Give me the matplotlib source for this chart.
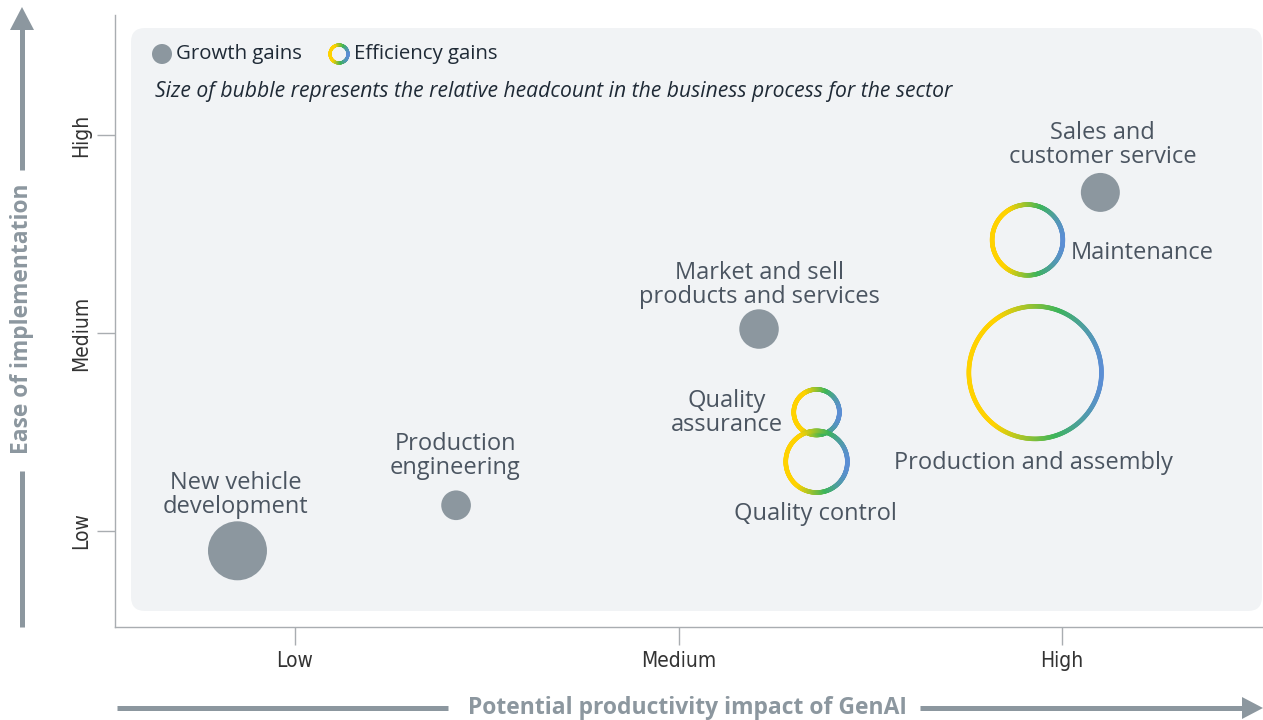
import numpy as np
import matplotlib
matplotlib.use("Agg")
import matplotlib.pyplot as plt
from matplotlib.collections import LineCollection
from matplotlib.colors import LinearSegmentedColormap
from matplotlib.lines import Line2D
from matplotlib.patches import FancyBboxPatch, Polygon, Circle
from matplotlib.transforms import IdentityTransform

plt.rcParams['font.family'] = ['Open Sans', 'DejaVu Sans']

# Growth gains (filled bubbles)
growth_names = ["New vehicle\ndevelopment", "Production\nengineering",
                "Market and sell\nproducts and services", "Sales and\ncustomer service"]
growth_impact = [0.85, 1.42, 2.21, 3.10]
growth_ease = [0.90, 1.13, 2.02, 2.71]
growth_headcount = [8.7, 2.2, 3.9, 3.8]

# Efficiency gains (gradient rings)
eff_names = ["Maintenance", "Production and assembly", "Quality\nassurance", "Quality control"]
eff_impact = [2.91, 2.93, 2.36, 2.36]
eff_ease = [2.47, 1.80, 1.60, 1.35]
eff_headcount = [14.1, 46.9, 6.25, 10.9]

levels = ["Low", "Medium", "High"]

# label placement (pixels relative to bubble centre)
growth_offsets = [(-2, 56, 'center'), (-1, 49, 'center'), (0, 44, 'center'), (2, 47, 'center')]
eff_offsets = [(43, -13, 'left'), (-2, -90, 'center'), (-34, -1, 'right'), (-1, -52, 'center')]

W, H = 1263, 720
GREY = '#8C979F'
LABEL = '#4B5561'
ring_cmap = LinearSegmentedColormap.from_list(
    'ring', [(0, '#FFD200'), (0.2, '#FFD200'), (0.66, '#3DB55A'), (1.0, '#5B8ED4')])


def radius(h):
    return 10 * np.sqrt(h)


def draw_ring(target, cx, cy, r, lw):
    th = np.linspace(0, 2 * np.pi, 361)
    pts = np.column_stack([cx + r * np.cos(th), cy + r * np.sin(th)])
    segs = np.stack([pts[:-1], pts[1:]], axis=1)
    t = (np.cos((th[:-1] + th[1:]) / 2) + 1) / 2
    lc = LineCollection(segs, colors=ring_cmap(t), linewidths=lw,
                        capstyle='round', transform=IdentityTransform())
    target.add_collection(lc, autolim=False)


fig = plt.figure(figsize=(W / 100, H / 100), dpi=100)
ax = fig.add_axes([115 / W, 93 / H, 1148 / W, 612 / H])
ax.set_facecolor('none')
ax.set_xlim(1 - 180 / 383.5, 1 + 968 / 383.5)
ax.set_ylim(1 - 96 / 198, 3 + 120 / 198)

# grey rounded panel
panel = FancyBboxPatch((131, 109), 1131, 583, boxstyle='round,pad=0,rounding_size=14',
                       transform=IdentityTransform(), fc='#F1F3F5', ec='none', zorder=0)
ax.add_patch(panel)

# spines and ticks
for s in ['top', 'right']:
    ax.spines[s].set_visible(False)
for s in ['left', 'bottom']:
    ax.spines[s].set_color('#A9ADB1')
    ax.spines[s].set_linewidth(1)
ax.set_xticks([1, 2, 3])
ax.set_xticklabels(levels)
ax.set_yticks([1, 2, 3])
ax.set_yticklabels(levels, rotation=90, va='center')
ax.tick_params(axis='both', length=13, width=1, color='#A9ADB1', labelcolor='#333333', labelsize=15)
ax.tick_params(axis='x', pad=4)
ax.tick_params(axis='y', pad=4)
for lab in ax.get_xticklabels() + ax.get_yticklabels():
    lab.set_fontfamily(['DejaVu Sans'])
    lab.set_fontstretch('condensed')

# growth bubbles
rg = radius(np.array(growth_headcount))
ax.scatter(growth_impact, growth_ease, s=(2 * rg * 0.72) ** 2, c=GREY, linewidths=0, zorder=3)
for name, x, y, (dx, dy, ha) in zip(growth_names, growth_impact, growth_ease, growth_offsets):
    ax.annotate(name, (x, y), xytext=(dx, dy), textcoords='offset pixels', ha=ha, va='center',
                fontsize=17, color=LABEL, linespacing=1.0, multialignment='center', zorder=4)

# efficiency rings
re = radius(np.array(eff_headcount))
for x, y, r in zip(eff_impact, eff_ease, re):
    cx, cy = ax.transData.transform((x, y))
    draw_ring(ax, cx, cy, r - 2.2, 3.3)
for name, x, y, (dx, dy, ha) in zip(eff_names, eff_impact, eff_ease, eff_offsets):
    ax.annotate(name, (x, y), xytext=(dx, dy), textcoords='offset pixels', ha=ha, va='center',
                fontsize=17, color=LABEL, linespacing=1.0, multialignment='center', zorder=4)

# legend and note
ax.add_patch(Circle((162, H - 54), 10, transform=IdentityTransform(), fc=GREY, ec='none', zorder=3))
fig.text(176 / W, 1 - 54 / H, "Growth gains", ha='left', va='center', fontsize=14.7, color='#1F2A36')
draw_ring(ax, 339, H - 54, 9, 2.2)
fig.text(354 / W, 1 - 54 / H, "Efficiency gains", ha='left', va='center', fontsize=14.7, color='#1F2A36')
fig.text(155 / W, 1 - 91 / H, "Size of bubble represents the relative headcount in the business process for the sector",
         ha='left', va='center', fontsize=15.2, style='italic', color='#1F2A36')

# axis arrows
idt = IdentityTransform()
fig.add_artist(Line2D([22, 22], [H - 627, H - 471], lw=3.6, color=GREY, transform=idt, solid_capstyle='butt'))
fig.add_artist(Line2D([22, 22], [H - 170, H - 28], lw=3.6, color=GREY, transform=idt, solid_capstyle='butt'))
fig.add_artist(Polygon([[10, H - 30], [34, H - 30], [22, H - 7]], closed=True, fc=GREY, ec='none', transform=idt))
fig.text(22 / W, 1 - 319 / H, "Ease of implementation", rotation=90, ha='center', va='center',
         fontsize=16.4, fontweight='bold', color=GREY)

fig.add_artist(Line2D([117, 448], [H - 708, H - 708], lw=3.6, color=GREY, transform=idt, solid_capstyle='butt'))
fig.add_artist(Line2D([920, 1244], [H - 708, H - 708], lw=3.6, color=GREY, transform=idt, solid_capstyle='butt'))
fig.add_artist(Polygon([[1242, H - 697], [1242, H - 719], [1263, H - 708]], closed=True, fc=GREY, ec='none', transform=idt))
fig.text(687 / W, 1 - 708 / H, "Potential productivity impact of GenAI", ha='center', va='center',
         fontsize=16.5, fontweight='bold', color=GREY)

fig.savefig('out.png', dpi=100)
